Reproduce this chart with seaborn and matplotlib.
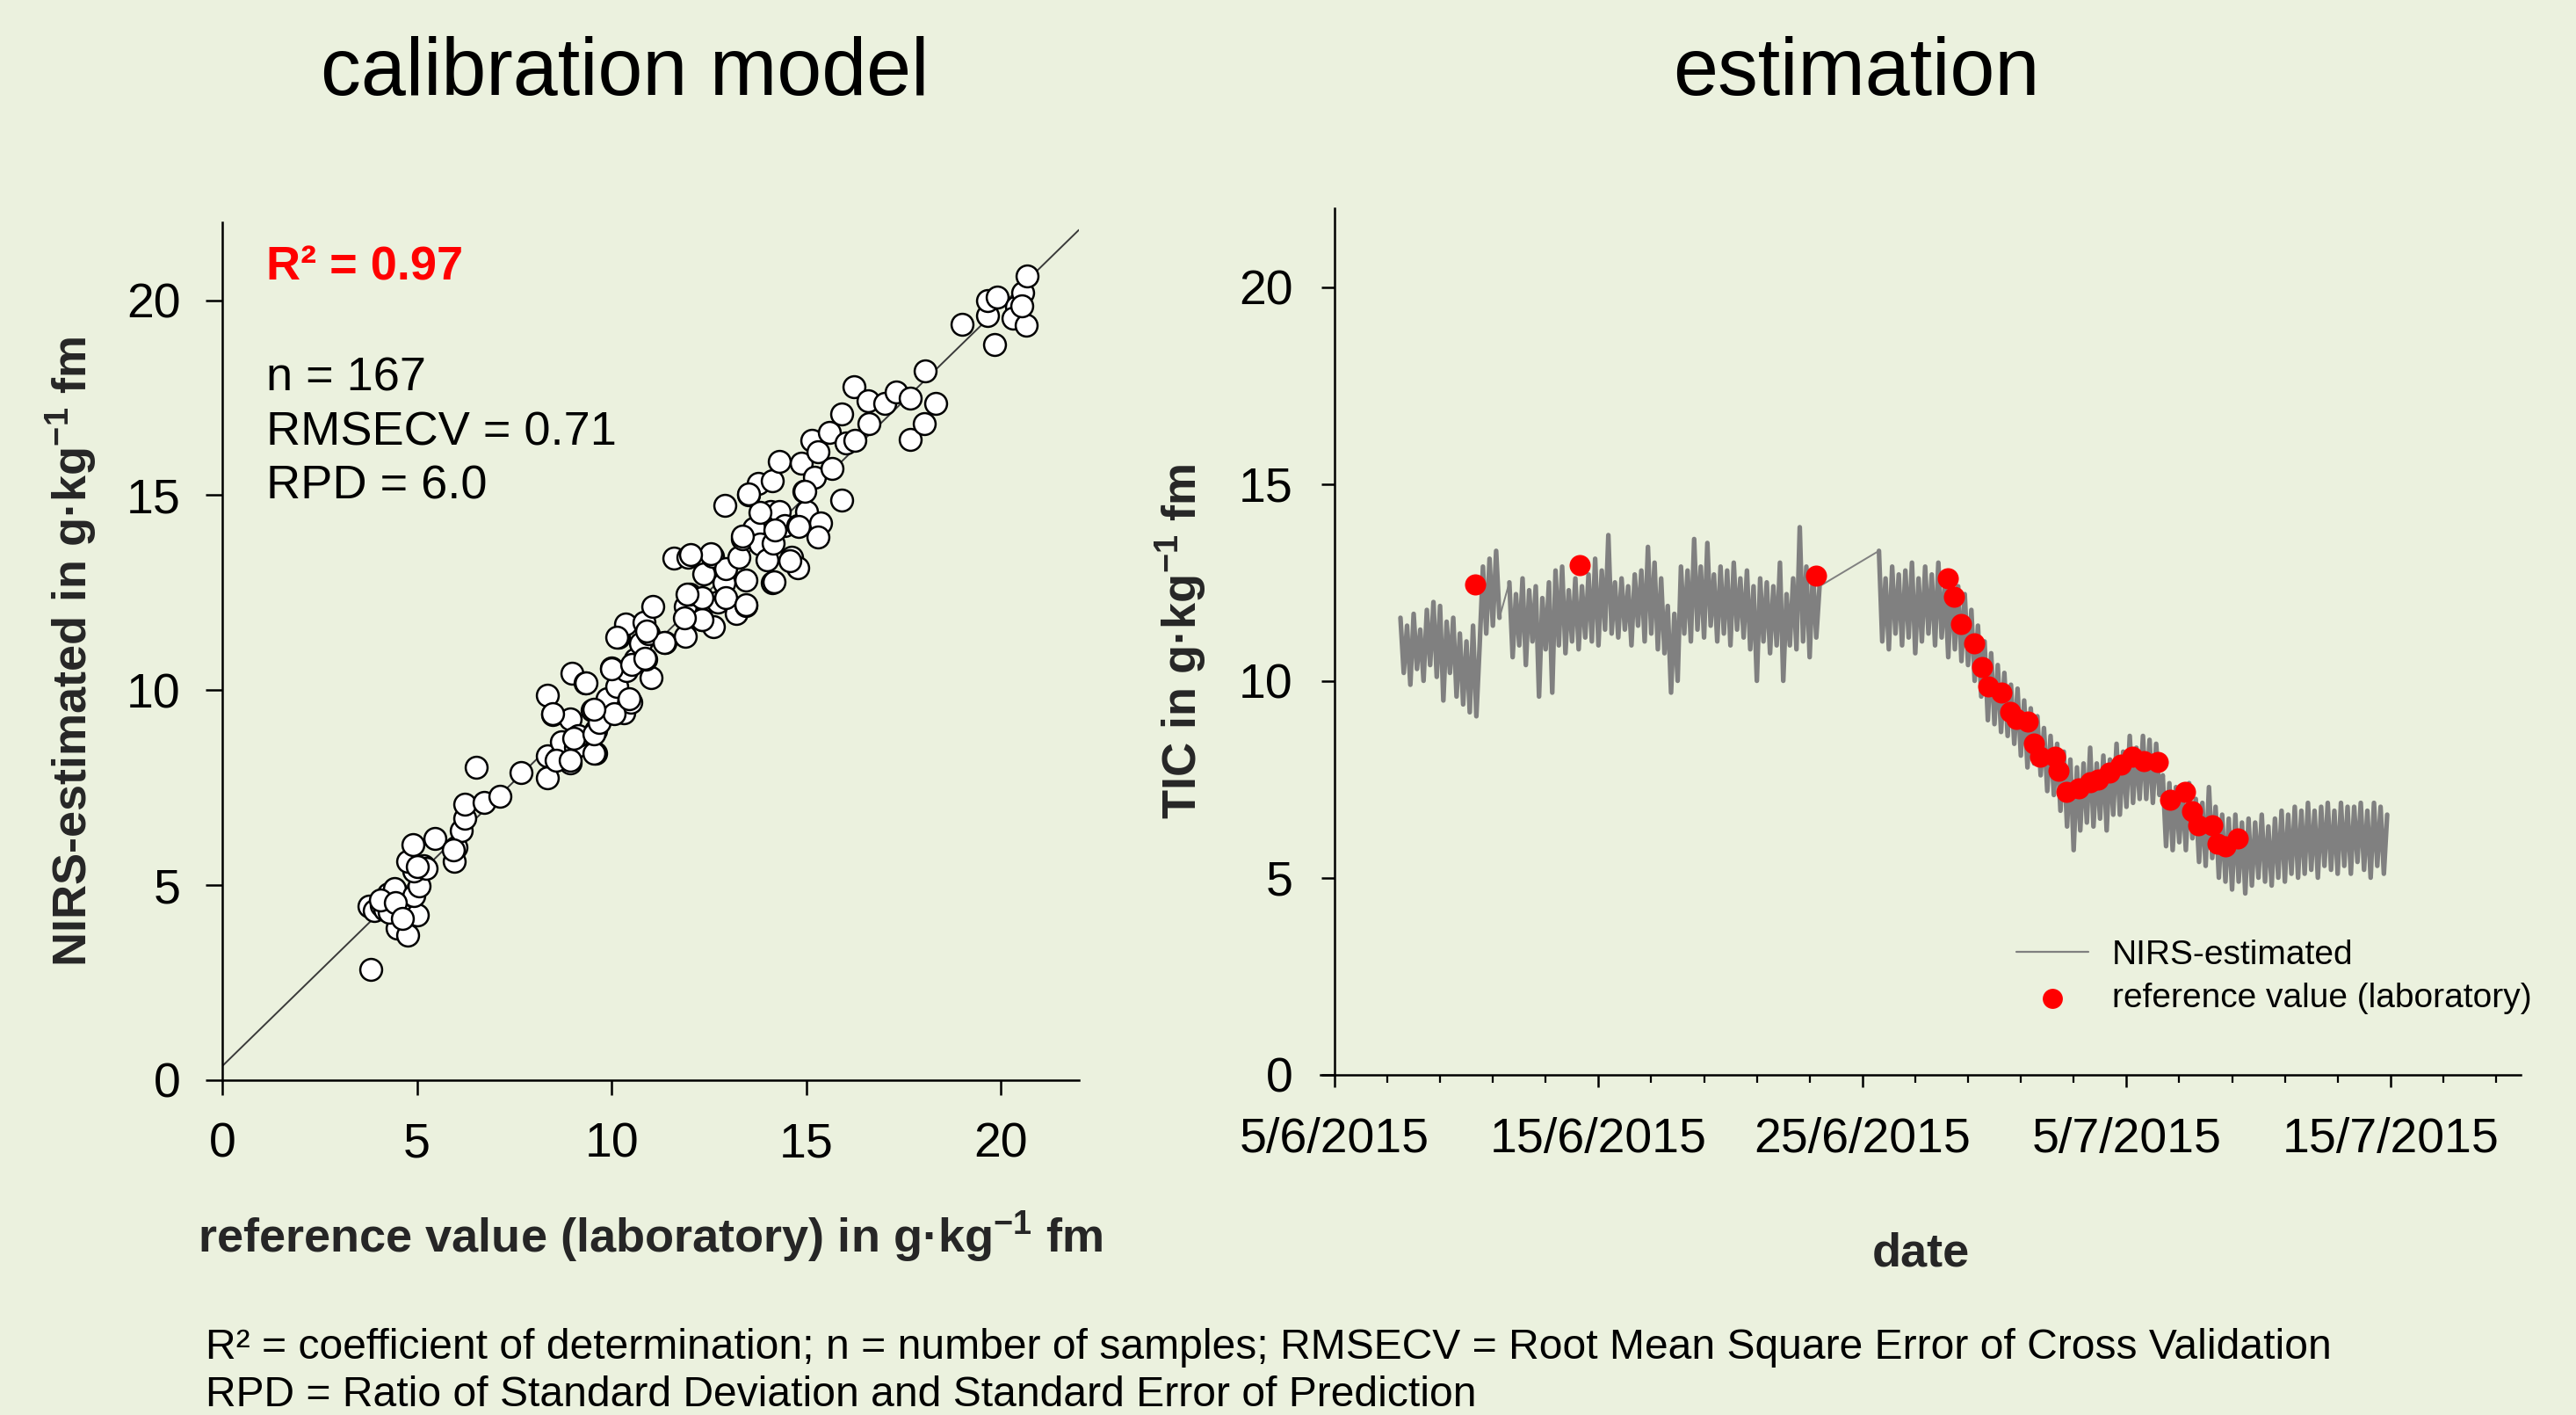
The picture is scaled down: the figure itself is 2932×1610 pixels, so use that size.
import numpy as np
import pandas as pd
import seaborn as sns
import matplotlib.pyplot as plt
import matplotlib.dates as mdates
from matplotlib.ticker import FuncFormatter

# ---- calibration model: laboratory reference vs NIRS estimate (g/kg fm)
ref_lab = [
    3.81, 3.76, 3.90, 4.09, 4.27, 4.42, 4.17, 4.61, 4.50, 4.75,
    5.02, 4.93, 5.05, 4.93, 5.16, 4.75, 4.90, 5.46, 5.95, 6.00,
    6.14, 6.22, 6.22, 6.73, 7.12, 6.51, 7.68, 8.34, 8.34, 8.49,
    8.34, 8.63, 8.93, 8.71, 8.93, 8.97, 9.07, 9.14, 9.32, 9.51,
    9.58, 9.58, 9.69, 9.88, 9.99, 10.14, 10.32, 10.49, 10.39, 10.61,
    11.02, 10.17, 10.35, 10.83, 10.73, 10.87, 11.05, 10.95, 11.37, 11.60,
    11.97, 11.90, 11.90, 12.00, 12.31, 12.37, 12.59, 12.62, 12.73, 12.88,
    12.91, 12.92, 13.19, 13.27, 13.46, 13.46, 13.36, 13.51, 13.65, 13.76,
    13.80, 13.98, 14.09, 14.12, 14.12, 14.30, 14.30, 14.15, 14.45, 14.63,
    14.78, 14.78, 14.88, 14.93, 15.00, 15.15, 15.29, 15.22, 15.37, 15.29,
    15.59, 15.66, 15.91, 15.92, 16.03, 16.22, 16.25, 16.58, 16.61, 17.01,
    17.31, 17.68, 17.68, 18.03, 18.05, 18.32, 19.00, 19.66, 19.66, 19.91,
    19.83, 20.39, 20.56, 20.67, 20.30, 20.64, 20.53, 4.29, 4.06, 4.45,
    5.23, 5.00, 4.62, 5.94, 8.57, 8.94, 9.54, 9.02, 9.54, 9.69,
    8.49, 10.07, 9.54, 10.44, 9.35, 10.00, 10.52, 10.86, 10.14, 11.34,
    10.89, 12.32, 11.87, 12.92, 12.32, 13.45, 11.94, 12.54, 12.02, 13.37,
    14.58, 14.16, 13.82, 14.20, 14.95, 13.52, 14.80,
]
nirs_fit = [
    2.84, 4.45, 4.35, 4.48, 4.77, 4.92, 4.38, 4.26, 3.89, 3.72,
    4.23, 4.74, 4.99, 5.37, 5.50, 5.62, 6.03, 6.20, 5.62, 5.98,
    6.39, 6.71, 7.08, 7.11, 7.27, 8.02, 7.88, 7.76, 8.32, 9.37,
    9.87, 8.24, 8.14, 8.68, 9.26, 10.43, 8.54, 8.83, 10.18, 9.48,
    8.39, 8.97, 9.26, 9.77, 10.58, 10.09, 9.41, 9.70, 10.50, 10.79,
    10.33, 11.35, 11.70, 11.74, 11.20, 10.79, 12.14, 11.45, 11.23, 13.39,
    13.42, 11.38, 12.14, 12.47, 11.82, 12.98, 13.44, 11.64, 12.25, 12.76,
    14.73, 13.12, 11.96, 13.42, 12.18, 12.83, 13.88, 15.02, 14.15, 15.31,
    13.75, 13.35, 14.58, 12.76, 15.38, 15.87, 14.58, 13.78, 14.22, 13.42,
    13.13, 14.22, 15.82, 15.09, 14.58, 16.40, 16.11, 15.46, 14.29, 13.93,
    16.62, 15.68, 14.88, 17.09, 16.33, 17.79, 16.40, 17.42, 16.84, 17.35,
    17.64, 17.50, 16.44, 16.84, 18.20, 17.35, 19.39, 19.61, 20.00, 20.09,
    18.87, 19.83, 20.19, 20.63, 19.54, 19.35, 19.86, 4.31, 4.62, 4.55,
    5.43, 5.48, 4.15, 5.90, 8.20, 8.20, 8.39, 8.76, 8.87, 9.17,
    9.39, 9.39, 9.50, 9.77, 10.18, 10.55, 10.66, 10.81, 11.37, 11.22,
    11.52, 11.82, 11.86, 12.38, 12.38, 12.20, 12.46, 13.50, 13.47, 13.95,
    13.32, 12.79, 14.55, 14.10, 15.11, 15.04, 14.21,
]
r2_text = "R² = 0.97"
calib_stats = ["n = 167", "RMSECV = 0.71", "RPD = 6.0"]

# ---- estimation: NIRS series sampled every 3 h (days after 5 June 2015)
t0 = pd.Timestamp("2015-06-05")
step_days = 0.125
nirs_start = [2.5, 6.625, 20.625]
nirs_a = [
    11.6, 10.2, 11.4, 9.9, 11.7, 10.3, 11.3, 10.0,
    11.8, 10.4, 12.0, 10.1, 11.9, 9.5, 11.5, 10.2,
    11.6, 9.6, 11.2, 9.4, 11.0, 9.2, 11.4, 9.1,
    10.9, 12.9, 11.2, 13.1, 11.4, 13.3, 11.6,
]
nirs_b = [
    12.5, 10.6, 12.2, 10.9, 12.6, 10.4, 12.3, 11.0,
    12.4, 9.6, 12.1, 10.8, 12.5, 9.7, 12.8, 10.9,
    12.9, 10.7, 12.3, 11.0, 12.6, 10.8, 12.4, 11.1,
    12.7, 11.0, 13.1, 10.9, 12.8, 11.3, 13.7, 11.2,
    12.5, 11.1, 12.6, 11.3, 12.4, 10.9, 12.7, 11.4,
    12.8, 11.0, 13.4, 11.2, 13.0, 10.8, 12.6, 10.7,
    11.9, 9.7, 11.7, 10.0, 12.9, 11.2, 12.8, 11.0,
    13.6, 11.3, 12.9, 11.1, 13.5, 11.4, 12.7, 11.0,
    12.9, 11.2, 12.8, 10.9, 13.0, 11.3, 12.6, 11.1,
    12.8, 10.8, 12.4, 10.0, 12.6, 11.0, 12.5, 10.7,
    12.4, 10.9, 13.0, 10.0, 12.2, 10.9, 12.6, 10.8,
    13.9, 11.0, 12.9, 10.6, 12.8, 11.1, 12.4,
]
nirs_c = [
    13.3, 11.0, 12.6, 10.8, 12.9, 11.2, 12.7, 10.9,
    12.8, 11.1, 13.0, 10.7, 12.6, 11.0, 12.9, 11.2,
    12.7, 10.9, 13.0, 11.1, 12.5, 10.6, 12.6, 10.8,
    12.4, 10.5, 12.2, 10.4, 11.8, 10.0, 11.4, 9.6,
    11.0, 9.0, 10.7, 8.9, 10.4, 8.7, 10.2, 8.6,
    9.9, 8.4, 9.8, 8.1, 9.5, 7.8, 9.3, 7.9,
    9.1, 7.6, 8.8, 7.2, 8.6, 7.1, 8.4, 6.7,
    8.2, 6.3, 8.0, 5.7, 7.8, 6.2, 7.9, 6.4,
    8.3, 6.3, 7.9, 6.5, 8.1, 6.2, 8.0, 6.6,
    8.4, 6.6, 8.2, 6.8, 8.6, 6.9, 8.3, 7.0,
    8.6, 7.0, 8.5, 6.9, 8.4, 7.1, 7.6, 5.8,
    7.4, 5.7, 7.3, 5.9, 7.2, 5.7, 7.4, 6.0,
    7.0, 5.4, 6.9, 5.3, 7.3, 5.5, 6.8, 5.0,
    6.6, 4.9, 6.5, 4.7, 6.6, 4.9, 6.4, 4.6,
    6.5, 4.8, 6.4, 5.0, 6.6, 4.9, 6.3, 4.8,
    6.5, 5.0, 6.7, 4.9, 6.6, 5.1, 6.8, 5.0,
    6.7, 5.1, 6.9, 5.2, 6.7, 5.0, 6.8, 5.3,
    6.9, 5.2, 6.7, 5.1, 6.9, 5.3, 6.8, 5.1,
    6.8, 5.4, 6.9, 5.2, 6.7, 5.0, 6.9, 5.3,
    6.8, 5.1, 6.6,
]
lab_day = [5.33, 9.29, 18.25, 23.24, 23.45, 23.74, 24.24, 24.54, 24.77, 25.27,
           25.59, 25.83, 26.27, 26.50, 26.74, 27.30, 27.44, 27.74, 28.18, 28.62,
           28.91, 29.35, 29.79, 30.23, 30.67, 31.20, 31.64, 32.23, 32.50, 32.73,
           33.26, 33.46, 33.76, 34.20]
lab_val = [12.44, 12.94, 12.67, 12.61, 12.13, 11.44, 10.96, 10.35, 9.85, 9.71,
           9.21, 9.04, 8.97, 8.40, 8.07, 8.07, 7.71, 7.17, 7.26, 7.43,
           7.50, 7.67, 7.86, 8.07, 7.97, 7.93, 6.97, 7.17, 6.69, 6.32,
           6.32, 5.86, 5.79, 6.00]
date_ticks = ["2015-06-05", "2015-06-15", "2015-06-25", "2015-07-05", "2015-07-15"]
val_ticks = [0, 5, 10, 15, 20]

footer = ["R² = coefficient of determination; n = number of samples; "
          "RMSECV = Root Mean Square Error of Cross Validation",
          "RPD = Ratio of Standard Deviation and Standard Error of Prediction"]

# ---- build tables
calib = pd.DataFrame({"ref": ref_lab, "est": nirs_fit})
parts = []
for k, (start, vals) in enumerate(zip(nirs_start, [nirs_a, nirs_b, nirs_c])):
    days = start + step_days * np.arange(len(vals))
    parts.append(pd.DataFrame({"date": t0 + pd.to_timedelta(days, unit="D"),
                               "tic": vals, "seg": k}))
nirs = pd.concat(parts, ignore_index=True)
lab = pd.DataFrame({"date": t0 + pd.to_timedelta(lab_day, unit="D"), "tic": lab_val})

# ---- style
bg = "#EBF1DE"
sns.set_style("ticks", {"axes.facecolor": bg, "figure.facecolor": bg})
plt.rcParams["font.family"] = ["Liberation Sans", "DejaVu Sans"]
plt.rcParams.update({
    "mathtext.fontset": "custom",
    "mathtext.rm": "Liberation Sans",
    "mathtext.bf": "Liberation Sans:bold",
    "axes.edgecolor": "black",
    "axes.linewidth": 0.9,
    "xtick.color": "black",
    "ytick.color": "black",
    "text.color": "black",
})

fig = plt.figure(figsize=(14.66, 8.05), dpi=200)
ax1 = fig.add_axes([0.0863, 0.2367, 0.3325, 0.6062])
ax2 = fig.add_axes([0.5126, 0.2406, 0.4659, 0.6122])

# ---- left: calibration model
ax1.set_xlim(0, 22)
ax1.set_ylim(0, 22)
sns.regplot(data=calib, x="ref", y="est", scatter=False, ci=None, truncate=False,
            ax=ax1, line_kws=dict(color="#3a3a3a", lw=0.7))
sns.scatterplot(data=calib, x="ref", y="est", ax=ax1, s=80, color="white",
                edgecolor="black", linewidth=0.9, zorder=3)
ax1.set_xlim(0, 22)
ax1.set_ylim(0, 22)
ax1.set_xticks(val_ticks)
ax1.set_yticks(val_ticks)
ax1.tick_params(axis="both", labelsize=20, width=0.9, direction="out")
ax1.tick_params(axis="x", length=6, pad=11)
ax1.tick_params(axis="y", length=7, pad=10)
sns.despine(ax=ax1)
ax1.set_xlabel(r"reference value (laboratory) in g·kg$^{\mathbf{-1}}$ fm",
               fontsize=19.5, fontweight="bold", labelpad=17)
ax1.set_ylabel(r"NIRS-estimated in g·kg$^{\mathbf{-1}}$ fm",
               fontsize=19.5, fontweight="bold", labelpad=11)
ax1.text(1.13, 20.83, r2_text, color="red", fontsize=19.5, fontweight="bold", va="center")
for i, s in enumerate(calib_stats):
    ax1.text(1.13, 18.0 - 1.39 * i, s, fontsize=19.5, va="center")

# ---- right: estimation time series
# thin line through everything (shows the joins across data gaps)
sns.lineplot(data=nirs, x="date", y="tic", ax=ax2, color="#808080", lw=0.7,
             estimator=None, sort=False, label="NIRS-estimated")
# heavier strokes inside each measuring period
sns.lineplot(data=nirs, x="date", y="tic", units="seg", ax=ax2, color="#808080",
             lw=1.9, estimator=None, sort=False, legend=False)
sns.scatterplot(data=lab, x="date", y="tic", ax=ax2, color="red", s=75,
                edgecolor="red", linewidth=0, zorder=3,
                label="reference value (laboratory)")
ax2.set_ylim(0, 22)
ax2.set_yticks(val_ticks)
ax2.set_xlim(t0 - pd.Timedelta(days=0.53), t0 + pd.Timedelta(days=44.93))
ax2.spines["left"].set_position(("data", mdates.date2num(t0)))
ax2.set_xticks(mdates.date2num(pd.to_datetime(date_ticks)))
ax2.set_xticks(mdates.date2num(pd.date_range(t0, periods=23, freq="2D")), minor=True)
ax2.xaxis.set_major_formatter(FuncFormatter(
    lambda v, p: "{0.day}/{0.month}/{0.year}".format(mdates.num2date(v))))
ax2.tick_params(axis="both", labelsize=20, width=0.9, direction="out")
ax2.tick_params(axis="x", which="major", length=5, pad=12.5)
ax2.tick_params(axis="x", which="minor", length=3.2, width=0.8)
ax2.tick_params(axis="y", length=5.5, pad=11.5)
sns.despine(ax=ax2)
ax2.set_xlabel("date", fontsize=19.5, fontweight="bold", labelpad=28)
ax2.set_ylabel(r"TIC in g·kg$^{\mathbf{-1}}$ fm", fontsize=19.5, fontweight="bold", labelpad=12)
handles, labels = ax2.get_legend_handles_labels()
leg = ax2.legend(handles[:2], labels[:2], loc="upper left", bbox_to_anchor=(0.58, 0.156),
                 frameon=False, fontsize=14, handlelength=2.1, handletextpad=0.7,
                 labelspacing=0.35, borderpad=0, borderaxespad=0, markerscale=0.95)
leg.get_lines()[0].set_linewidth(0.8)

# ---- titles and footnote
fig.text(0.2425, 0.948, "calibration model", ha="center", va="center", fontsize=33)
fig.text(0.7207, 0.948, "estimation", ha="center", va="center", fontsize=33)
fig.text(0.0798, 0.0478, footer[0], fontsize=17.3, va="center")
fig.text(0.0798, 0.0137, footer[1], fontsize=17.3, va="center")

fig.savefig("out.png", dpi=200, facecolor=bg)
